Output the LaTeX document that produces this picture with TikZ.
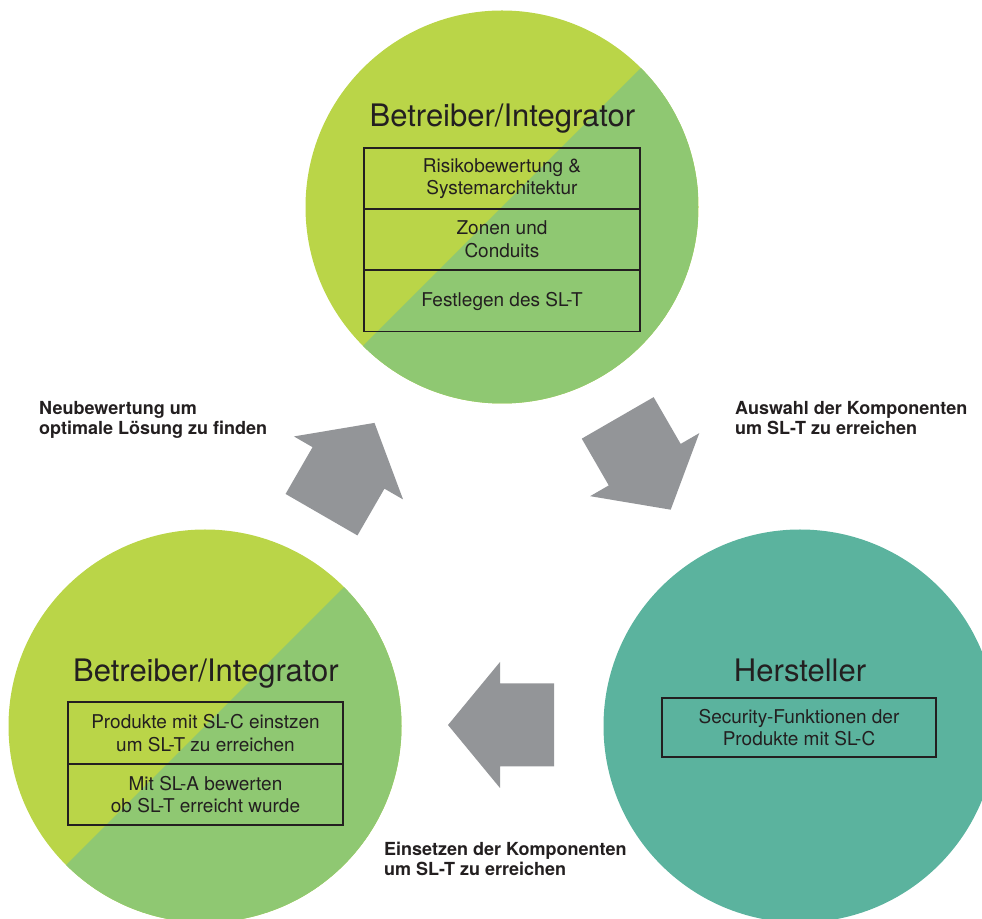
\documentclass[tikz,border=0pt]{standalone}
\usepackage{fontspec}
\setmainfont{TeX Gyre Heros}
\begin{document}
\definecolor{limegreen}{HTML}{BAD548}
\definecolor{leafgreen}{HTML}{8FC872}
\definecolor{tealgreen}{HTML}{5BB39E}
\definecolor{arrowgray}{HTML}{939598}
\definecolor{inkdark}{HTML}{231F20}
\tikzset{
  stage/.style={circle, inner sep=0pt, minimum size=393pt},
  splitstage/.style={stage, fill=limegreen,
    path picture={\fill[leafgreen] (path picture bounding box.north east) --
      (path picture bounding box.south west) --
      (path picture bounding box.south east) -- cycle;}},
  stagetitle/.style={anchor=base, text=inkdark, font=\fontsize{31}{36}\selectfont},
  taskbox/.style={draw=inkdark, line width=1.6pt, inner sep=0pt, align=center,
    text=inkdark, font=\fontsize{19}{22.5}\selectfont},
  steplabel/.style={anchor=base west, align=left, inner sep=0pt, text=inkdark,
    font=\bfseries\fontsize{18}{20}\selectfont},
  pics/flowarrow/.style={code={
    \fill[arrowgray] (-53,41.5) -- (1,41.5) -- (1,63) -- (53,0) -- (1,-63)
      -- (1,-41.5) -- (-53,-41.5) -- cycle;}}
}
\begin{tikzpicture}[x=1pt, y=1pt]
\useasboundingbox (0,0) rectangle (982,918);

% the three stages
\node[splitstage] (betr1) at (502,711) {};
\node[splitstage] (betr2) at (205,192) {};
\node[stage, fill=tealgreen] (herst) at (800,192) {};

% operator / integrator, planning stage
\node[stagetitle] (t1) at (502.5,791) {Betreiber/Integrator};
\node[taskbox, minimum width=276pt, minimum height=61pt] (r1) at (502,739.5)
  {Risikobewertung \&\\Systemarchitektur};
\node[taskbox, minimum width=276pt, minimum height=61pt] (r2) at (502,678.5)
  {Zonen und\\Conduits};
\node[taskbox, minimum width=276pt, minimum height=61pt] (r3) at (502,617)
  {Festlegen des SL-T};

% operator / integrator, deployment stage
\node[stagetitle] (t2) at (206,236) {Betreiber/Integrator};
\node[taskbox, minimum width=275pt, minimum height=61.5pt] (p1) at (205.5,185)
  {Produkte mit SL-C einstzen\\um SL-T zu erreichen};
\node[taskbox, minimum width=275pt, minimum height=61.5pt] (p2) at (205.5,123.5)
  {Mit SL-A bewerten\\ob SL-T erreicht wurde};

% manufacturer
\node[stagetitle] (t3) at (800,236) {Hersteller};
\node[taskbox, minimum width=274pt, minimum height=59pt] (h1) at (799,190.5)
  {Security-Funktionen der\\Produkte mit SL-C};

% cycle arrows
\pic[rotate=60] (a1) at (348,449.2) {flowarrow};
\pic[rotate=-60] (a2) at (644.2,454.2) {flowarrow};
\pic[rotate=180] (a3) at (501,193) {flowarrow};

% step descriptions (anchored at the baseline of the last line)
\node[steplabel] (l1) at (39,483) {Neubewertung um\\optimale Lösung zu finden};
\node[steplabel] (l2) at (735,483) {Auswahl der Komponenten\\um SL-T zu erreichen};
\node[steplabel] (l3) at (384,43) {Einsetzen der Komponenten\\um SL-T zu erreichen};
\end{tikzpicture}
\end{document}
